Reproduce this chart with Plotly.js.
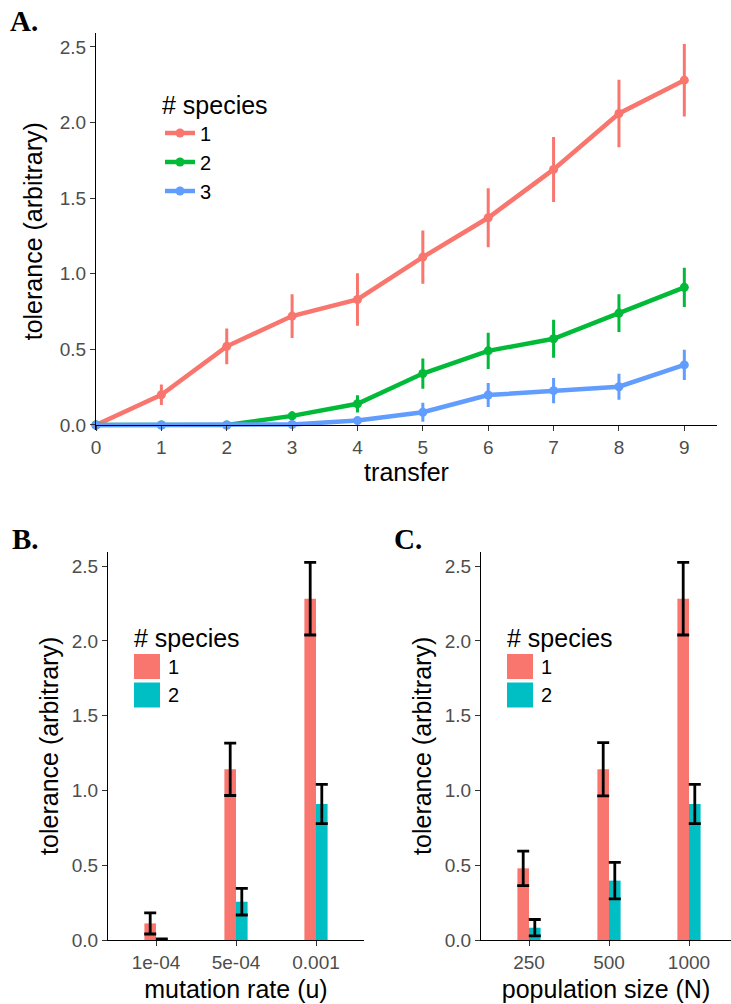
<!DOCTYPE html>
<html>
<head>
<meta charset="utf-8">
<script src="https://cdn.plot.ly/plotly-3.0.1.min.js"></script>
<style>html,body{margin:0;padding:0;background:#fff;}#chart{width:731px;height:1004px;}</style>
</head>
<body>
<div id="chart"></div>
<script>
// ---- Panel A data: tolerance over transfers ----
const transfer = [0, 1, 2, 3, 4, 5, 6, 7, 8, 9];
const tolSp1 = [0, 0.20, 0.52, 0.72, 0.83, 1.11, 1.37, 1.69, 2.06, 2.28];
const errSp1 = [0, 0.068, 0.118, 0.145, 0.174, 0.176, 0.195, 0.215, 0.223, 0.24];
const tolSp2 = [0, 0, 0, 0.06, 0.14, 0.34, 0.49, 0.57, 0.74, 0.91];
const errSp2 = [0, 0, 0, 0.03, 0.057, 0.10, 0.12, 0.125, 0.125, 0.13];
const tolSp3 = [0, 0, 0, 0.003, 0.029, 0.084, 0.198, 0.227, 0.253, 0.397];
const errSp3 = [0, 0, 0, 0.003, 0.01, 0.063, 0.08, 0.083, 0.086, 0.10];
const speciesNames = ['1', '2', '3'];
const lineColors = ['#F8766D', '#00BA38', '#619CFF'];

// ---- Panel B data: mutation rate ----
const mutationRate = ['1e-04', '5e-04', '0.001'];
const mutSp1 = [0.111, 1.141, 2.282];
const mutErr1 = [0.071, 0.175, 0.243];
const mutSp2 = [0.004, 0.256, 0.909];
const mutErr2 = [0.003, 0.089, 0.131];

// ---- Panel C data: population size ----
const popSize = ['250', '500', '1000'];
const popSp1 = [0.479, 1.141, 2.282];
const popErr1 = [0.115, 0.178, 0.243];
const popSp2 = [0.082, 0.397, 0.909];
const popErr2 = [0.055, 0.122, 0.131];

const barNames = ['1', '2'];
const barColors = ['#F8766D', '#00BFC4'];

const yTickVals = [0, 0.5, 1.0, 1.5, 2.0, 2.5];
const yTickText = ['0.0', '0.5', '1.0', '1.5', '2.0', '2.5'];

const W = 731, H = 1004;
const px = v => v / W;
const py = v => 1 - v / H;

const FONT = 'Liberation Sans, Arial, sans-serif';
const tickFont = {family: FONT, size: 19, color: '#4D4D4D'};
const titleFont = {family: FONT, size: 25, color: '#000'};

function axisBase(extra) {
  return Object.assign({
    showgrid: false, zeroline: false, showline: true, linecolor: '#000', linewidth: 1,
    ticks: 'outside', ticklen: 5, tickcolor: '#333', tickwidth: 1,
    tickfont: tickFont, fixedrange: true
  }, extra);
}

const lineY = [tolSp1, tolSp2, tolSp3];
const lineE = [errSp1, errSp2, errSp3];
const traces = [];
for (let i = 0; i < 3; i++) {
  traces.push({
    type: 'scatter', mode: 'lines+markers', x: transfer, y: lineY[i],
    name: speciesNames[i], xaxis: 'x', yaxis: 'y', cliponaxis: false,
    line: {color: lineColors[i], width: 4.5},
    marker: {color: lineColors[i], size: 9},
    error_y: {type: 'data', array: lineE[i], visible: true, color: lineColors[i], thickness: 3, width: 0},
    legend: 'legend', showlegend: true
  });
}

const panelB = [[mutSp1, mutErr1], [mutSp2, mutErr2]];
const panelC = [[popSp1, popErr1], [popSp2, popErr2]];
for (let i = 0; i < 2; i++) {
  traces.push({
    type: 'bar', x: mutationRate, y: panelB[i][0], name: barNames[i],
    xaxis: 'x2', yaxis: 'y2', marker: {color: barColors[i]}, showlegend: false,
    error_y: {type: 'data', array: panelB[i][1], visible: true, color: '#000', thickness: 2.8, width: 6}
  });
}
for (let i = 0; i < 2; i++) {
  traces.push({
    type: 'bar', x: popSize, y: panelC[i][0], name: barNames[i],
    xaxis: 'x3', yaxis: 'y3', marker: {color: barColors[i]}, showlegend: false,
    error_y: {type: 'data', array: panelC[i][1], visible: true, color: '#000', thickness: 2.8, width: 6}
  });
}

// manual legends for bar panels (large square keys like ggplot)
const shapes = [];
const annotations = [];
function barLegend(left) {
  annotations.push({xref: 'paper', yref: 'paper', x: px(left - 2), y: py(638), xanchor: 'left', yanchor: 'middle',
    text: '# species', showarrow: false, font: {family: FONT, size: 25, color: '#000'}});
  for (let i = 0; i < barNames.length; i++) {
    const top = 654 + i * 28.5;
    shapes.push({type: 'rect', xref: 'paper', yref: 'paper', x0: px(left), x1: px(left + 26),
      y0: py(top), y1: py(top + 25), fillcolor: barColors[i], line: {width: 0}});
    annotations.push({xref: 'paper', yref: 'paper', x: px(left + 32), y: py(top + 12.5), xanchor: 'left', yanchor: 'middle',
      text: barNames[i], showarrow: false, font: {family: FONT, size: 20, color: '#000'}});
  }
}
barLegend(134);
barLegend(507);

const letterFont = {family: 'Liberation Serif, Times New Roman, serif', size: 29, color: '#000'};
annotations.push({xref: 'paper', yref: 'paper', x: px(8), y: py(21), xanchor: 'left', yanchor: 'middle', text: '<b>A.</b>', showarrow: false, font: letterFont});
annotations.push({xref: 'paper', yref: 'paper', x: px(10), y: py(539), xanchor: 'left', yanchor: 'middle', text: '<b>B.</b>', showarrow: false, font: letterFont});
annotations.push({xref: 'paper', yref: 'paper', x: px(392), y: py(539), xanchor: 'left', yanchor: 'middle', text: '<b>C.</b>', showarrow: false, font: letterFont});

const layout = {
  width: W, height: H,
  margin: {l: 0, r: 0, t: 0, b: 0},
  paper_bgcolor: '#fff', plot_bgcolor: '#fff',
  font: {family: FONT},
  barmode: 'group', bargap: 0.71, bargroupgap: 0,
  showlegend: true,
  legend: {x: px(160), y: py(81), xanchor: 'left', yanchor: 'top', bgcolor: 'rgba(0,0,0,0)',
    title: {text: '# species', font: {family: FONT, size: 25, color: '#000'}},
    font: {family: FONT, size: 20, color: '#000'}, tracegroupgap: 0},
  xaxis: axisBase({domain: [px(96), px(717)], range: [0, 9.5], tickvals: transfer, ticktext: transfer.map(String),
    anchor: 'free', position: py(425),
    title: {text: 'transfer', font: titleFont, standoff: 6}}),
  yaxis: axisBase({domain: [py(429.5), py(33)], range: [-0.03, 2.592], anchor: 'x', tickvals: yTickVals, ticktext: yTickText,
    title: {text: 'tolerance (arbitrary)', font: titleFont, standoff: 10}}),
  xaxis2: axisBase({domain: [px(108), px(364)], type: 'category', categoryarray: mutationRate, range: [-0.6, 2.6], anchor: 'y2',
    title: {text: 'mutation rate (u)', font: titleFont, standoff: 8}}),
  yaxis2: axisBase({domain: [py(940), py(551.7)], range: [0, 2.596], anchor: 'x2', tickvals: yTickVals, ticktext: yTickText,
    title: {text: 'tolerance (arbitrary)', font: titleFont, standoff: 6}}),
  xaxis3: axisBase({domain: [px(481), 1], type: 'category', categoryarray: popSize, range: [-0.6, 2.525], anchor: 'y3',
    title: {text: 'population size (N)', font: titleFont, standoff: 8}}),
  yaxis3: axisBase({domain: [py(940), py(551.7)], range: [0, 2.596], anchor: 'x3', tickvals: yTickVals, ticktext: yTickText,
    title: {text: 'tolerance (arbitrary)', font: titleFont, standoff: 6}}),
  shapes: shapes,
  annotations: annotations
};

Plotly.newPlot('chart', traces, layout, {displayModeBar: false, staticPlot: true});
</script>
</body>
</html>
